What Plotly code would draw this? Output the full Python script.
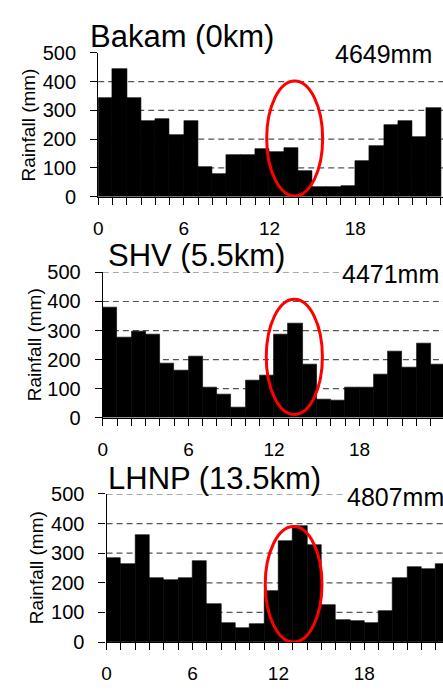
import plotly.graph_objects as go

W, H = 443, 694

hours = list(range(24))
bakam = [343, 443, 343, 265, 272, 215, 265, 103, 80, 144, 144, 167, 157, 171, 88, 33, 33, 36, 125, 178, 248, 262, 208, 309]
shv = [380, 277, 297, 287, 187, 163, 210, 103, 80, 37, 127, 147, 287, 323, 183, 63, 60, 103, 103, 150, 227, 173, 257, 183]
lhnp = [283, 264, 362, 215, 208, 215, 274, 130, 64, 48, 61, 172, 342, 391, 329, 126, 74, 71, 64, 104, 215, 254, 247, 264]
series = [bakam, shv, lhnp]
titles = ["Bakam (0km)", "SHV (5.5km)", "LHNP (13.5km)"]
totals = ["4649mm", "4471mm", "4807mm"]
xtick_vals = list(range(25))
xtick_text = [str(h) if (h % 6 == 0 and h < 24) else "" for h in xtick_vals]
ytick_vals = [0, 100, 200, 300, 400, 500]

# layout geometry (pixels) per panel
panels = [
    dict(left=94.3, zero=191.7, top=43.3, xmax=24.15, grid=[100, 200, 300, 400],
         ell=(11.8, 15.72, 2, 402), title=(84, 26), total=(332, 44), ytitle=24),
    dict(left=99.0, zero=420.0, top=270.0, xmax=23.86, grid=[100, 200, 300, 400, 500],
         ell=(11.46, 15.4, 11, 408), title=(102, 252), total=(339, 271.5), ytitle=29.5),
    dict(left=102.7, zero=651.7, top=498.8, xmax=23.49, grid=[100, 200, 300, 400, 500],
         ell=(11.08, 15.04, 0, 390), title=(102, 482.5), total=(344, 501.5), ytitle=31.5),
]

FONT = "Liberation Sans"
fig = go.Figure()
shapes = []
annotations = []
layout = dict(
    width=W, height=H, autosize=False,
    margin=dict(l=0, r=0, t=0, b=0),
    paper_bgcolor="white", plot_bgcolor="white",
    showlegend=False, bargap=0,
    font=dict(family=FONT, color="black"),
)

for i, (vals, p) in enumerate(zip(series, panels)):
    n = "" if i == 0 else str(i + 1)
    xa, ya = "x" + n, "y" + n
    fig.add_trace(go.Bar(
        x=[h + 0.5 for h in hours], y=vals, width=1,
        marker=dict(color="black", line=dict(color="black", width=0.6)),
        xaxis=xa, yaxis=ya, hoverinfo="skip",
    ))
    layout["xaxis" + n] = dict(
        domain=[p["left"] / W, 1.0], range=[0, p["xmax"]], anchor=ya,
        tickmode="array", tickvals=xtick_vals, ticktext=xtick_text,
        ticks="outside", ticklen=7, tickwidth=1.2, tickcolor="black",
        showline=True, linecolor="black", linewidth=1.3,
        showgrid=False, zeroline=False,
        tickfont=dict(family=FONT, size=19, color="black"),
        ticklabelstandoff=7,
    )
    layout["yaxis" + n] = dict(
        domain=[1 - p["zero"] / H, 1 - p["top"] / H], range=[0, 500], anchor=xa,
        tickmode="array", tickvals=ytick_vals,
        ticks="outside", ticklen=7, tickwidth=1.2, tickcolor="black",
        showline=True, linecolor="black", linewidth=1.3,
        showgrid=False, zeroline=False,
        tickfont=dict(family=FONT, size=20, color="black"),
        ticklabelstandoff=10,
    )
    for g in p["grid"]:
        shapes.append(dict(type="line", xref=xa + " domain", yref=ya,
                           x0=0, x1=1, y0=g, y1=g, layer="below",
                           line=dict(color="#555555", width=1.2, dash="6px,4px")))
    x0, x1, y0, y1 = p["ell"]
    shapes.append(dict(type="circle", xref=xa, yref=ya, x0=x0, x1=x1, y0=y0, y1=y1,
                       layer="above", line=dict(color="#ff0000", width=3)))
    tx, ty = p["title"]
    annotations.append(dict(text=titles[i], x=tx / W, y=1 - ty / H, xref="paper", yref="paper",
                            xanchor="left", yanchor="middle", showarrow=False,
                            font=dict(family=FONT, size=31, color="black")))
    sx, sy = p["total"]
    annotations.append(dict(text=totals[i], x=sx / W, y=1 - sy / H, xref="paper", yref="paper",
                            xanchor="left", yanchor="middle", showarrow=False, bgcolor="white",
                            font=dict(family=FONT, size=25, color="black")))
    annotations.append(dict(text="Rainfall (mm)", x=p["ytitle"] / W,
                            y=1 - (p["zero"] + p["top"]) / 2 / H, xref="paper", yref="paper",
                            xanchor="center", yanchor="middle", textangle=-90, showarrow=False,
                            font=dict(family=FONT, size=19, color="black")))

layout["shapes"] = shapes
layout["annotations"] = annotations
fig.update_layout(**layout)
fig.write_html("out.html")
